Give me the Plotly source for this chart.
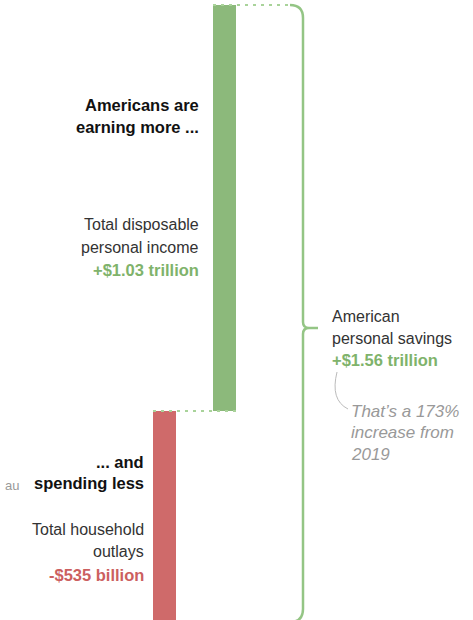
import plotly.graph_objects as go

# ---- data ----
categories = ["Total household outlays", "Total disposable personal income"]
changes_trillion = [-0.535, 1.03]          # change vs 2019, trillions of dollars
savings_change = 1.56                       # trillions
savings_pct = 173
value_labels = ["-$535 billion", "+$1.03 trillion"]
savings_label = "+$1.56 trillion"

# ---- styling / layout constants ----
W, H = 473, 620
GREEN_BAR = "#8cb97b"
RED_BAR = "#cf6a6a"
GREEN_TXT = "#7fb36b"
RED_TXT = "#cc5f5f"
BRACE = "#94c585"
DOT = "#a9d39a"
FONT = "Liberation Sans, Arial, sans-serif"

bar_centers = [164.5, 224.5]   # x in pixel units
bar_width = 23
y_range = [-0.530, 1.0427]
brace_x = 303
brace_start_x = 290

def P(x, y):
    return x / W, 1 - y / H

fig = go.Figure()

fig.add_trace(go.Bar(
    x=bar_centers, y=changes_trillion, base=[0, 0], width=bar_width,
    marker=dict(color=[RED_BAR, GREEN_BAR], line=dict(width=0)),
    hoverinfo="skip", showlegend=False))

# dotted connectors
inc = changes_trillion[1]
left_red = bar_centers[0] - bar_width / 2
right_green = bar_centers[1] + bar_width / 2
left_green = bar_centers[1] - bar_width / 2
fig.add_trace(go.Scatter(x=[left_red, right_green], y=[0, 0], mode="lines",
                         line=dict(color=DOT, width=2, dash="3px,5px"),
                         hoverinfo="skip", showlegend=False))
fig.add_trace(go.Scatter(x=[left_green, brace_start_x], y=[inc, inc], mode="lines",
                         line=dict(color=DOT, width=2, dash="3px,5px"),
                         hoverinfo="skip", showlegend=False))

# brace spanning from min to max of the waterfall
top = max(changes_trillion)
bot = min(changes_trillion)
pxu = (y_range[1] - y_range[0]) / H     # data units per pixel
r = 13 * pxu
tip_y = y_range[1] - 328 * pxu
rt = 6 * pxu
path = (f"M {brace_start_x},{top} Q {brace_x},{top} {brace_x},{top - r} "
        f"L {brace_x},{tip_y + rt} Q {brace_x},{tip_y} {brace_x + 6},{tip_y} "
        f"L {brace_x + 15},{tip_y} M {brace_x + 6},{tip_y} "
        f"Q {brace_x},{tip_y} {brace_x},{tip_y - rt} "
        f"L {brace_x},{bot + r} Q {brace_x},{bot} {brace_start_x},{bot}")
fig.add_shape(type="path", path=path, xref="x", yref="y",
              line=dict(color=BRACE, width=2.5))

# gray pointer line
x0, y0 = P(337, 372)
x1, y1 = P(348, 409)
xc, yc = P(330, 400)
fig.add_shape(type="path", xref="paper", yref="paper",
              path=f"M {x0},{y0} Q {xc},{yc} {x1},{y1}",
              line=dict(color="#bbbbbb", width=1))

def txt(s, x, y, anchor="right", color="#333333", size=16, bold=False, italic=False):
    if bold:
        s = f"<b>{s}</b>"
        if size == 16:
            size = 16.5
    if italic:
        s = f"<i>{s}</i>"
    px, py = P(x, y)
    fig.add_annotation(text=s, x=px, y=py, xref="paper", yref="paper",
                       xanchor=anchor, yanchor="middle", showarrow=False,
                       font=dict(family=FONT, size=size, color=color))

# left labels (income)
txt("Americans are", 201, 105, color="#111111", bold=True)
txt("earning more ...", 201, 127, color="#111111", bold=True)
txt("Total disposable", 201, 224)
txt("personal income", 201, 247)
txt(value_labels[1], 201, 270, color=GREEN_TXT, bold=True)

# left labels (spending)
txt("... and", 146, 462, color="#111111", bold=True)
txt("spending less", 146, 483, color="#111111", bold=True)
txt("Total household", 146, 529)
txt("outlays", 146, 551)
txt(value_labels[0], 146, 575, color=RED_TXT, bold=True)

# right labels
txt("American", 330, 316, anchor="left")
txt("personal savings", 330, 338, anchor="left")
txt(savings_label, 330, 360, anchor="left", color=GREEN_TXT, bold=True)
txt(f"That\u2019s a {savings_pct}%", 349, 411, anchor="left", color="#999999", size=17, italic=True)
txt("increase from", 349, 432, anchor="left", color="#999999", size=17, italic=True)
txt("2019", 349, 454, anchor="left", color="#999999", size=17, italic=True)

# visible tail of the source line at the left edge
txt("au", 3, 486, anchor="left", color="#9a9a9a", size=13)

fig.update_layout(
    width=W, height=H, margin=dict(l=0, r=0, t=0, b=0),
    paper_bgcolor="white", plot_bgcolor="white",
    xaxis=dict(range=[0, W], visible=False, fixedrange=True),
    yaxis=dict(range=y_range, visible=False, fixedrange=True),
    bargap=0, showlegend=False,
)

fig.write_html("out.html", config={"displayModeBar": False})
